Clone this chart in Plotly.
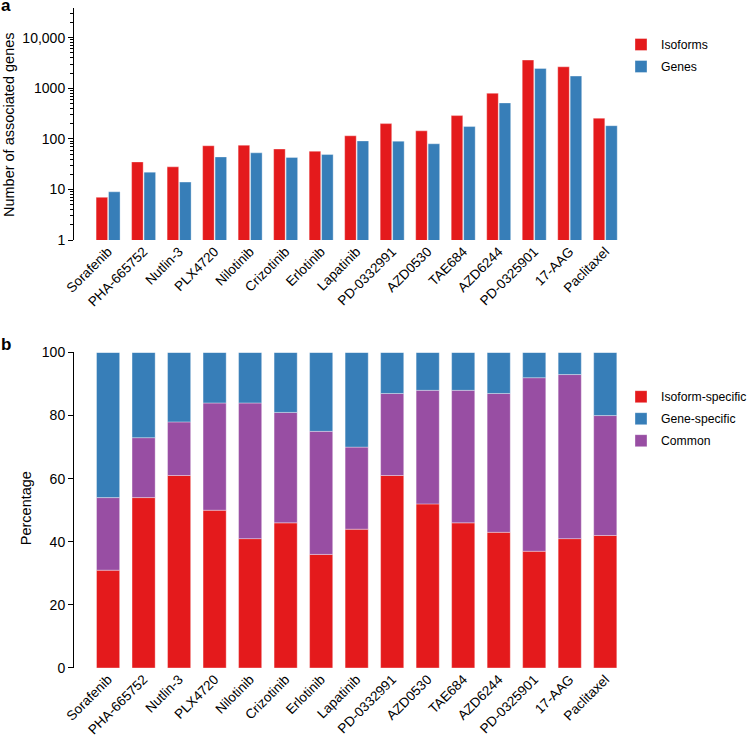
import plotly.graph_objects as go

drugs = ["Sorafenib", "PHA-665752", "Nutlin-3", "PLX4720", "Nilotinib", "Crizotinib",
         "Erlotinib", "Lapatinib", "PD-0332991", "AZD0530", "TAE684", "AZD6244",
         "PD-0325901", "17-AAG", "Paclitaxel"]

isoforms = [7, 35, 28, 73, 75, 63, 57, 115, 200, 144, 288, 795, 3600, 2650, 256]
genes = [9, 22, 14, 44, 53, 43, 49, 91, 90, 80, 175, 513, 2460, 1740, 182]

isoform_specific = [31, 54, 61, 50, 41, 46, 36, 44, 61, 52, 46, 43, 37, 41, 42]
common = [23, 19, 17, 34, 43, 35, 39, 26, 26, 36, 42, 44, 55, 52, 38]
gene_specific = [46, 27, 22, 16, 16, 19, 25, 30, 13, 12, 12, 13, 8, 7, 20]

log_ticks = [1, 10, 100, 1000, 10000]
log_ticktext = ["1", "10", "100", "1000", "10,000"]
pct_ticks = [0, 20, 40, 60, 80, 100]

RED = "#E41A1C"
BLUE = "#377EB8"
PURPLE = "#984EA3"
FONT = "Liberation Sans, Arial, sans-serif"

W, H = 748, 736
L, R, T, B = 74, 623, 8, 667.7   # plot area in pixels
PW, PH = R - L, B - T

def px(x):
    return (x - L) / PW
def py(y):
    return (B - y) / PH

minor_vals = [m * 10 ** k for k in range(0, 5) for m in range(2, 10)] + [20000, 30000]

fig = go.Figure()

edge = dict(color="rgba(255,255,255,0.35)", width=1)

fig.add_trace(go.Bar(x=drugs, y=isoforms, name="Isoforms", marker=dict(color=RED, line=edge),
                     xaxis="x", yaxis="y", legend="legend", legendgroup="a1"))
fig.add_trace(go.Bar(x=drugs, y=genes, name="Genes", marker=dict(color=BLUE, line=edge),
                     xaxis="x", yaxis="y", legend="legend", legendgroup="a2"))

base_common = isoform_specific
base_gene = [a + b for a, b in zip(isoform_specific, common)]

fig.add_trace(go.Bar(x=drugs, y=isoform_specific, name="Isoform-specific",
                     marker=dict(color=RED, line=edge), xaxis="x2", yaxis="y2",
                     legend="legend2", legendrank=1, legendgroup="b1",
                     offsetgroup="stack"))
fig.add_trace(go.Bar(x=drugs, y=common, base=base_common, name="Common",
                     marker=dict(color=PURPLE, line=edge), xaxis="x2", yaxis="y2",
                     legend="legend2", legendrank=3, legendgroup="b3",
                     offsetgroup="stack"))
fig.add_trace(go.Bar(x=drugs, y=gene_specific, base=base_gene, name="Gene-specific",
                     marker=dict(color=BLUE, line=edge), xaxis="x2", yaxis="y2",
                     legend="legend2", legendrank=2, legendgroup="b2",
                     offsetgroup="stack"))

xrange_ = [-0.96, 14.5]
TICK = 14
XTICK = 13.5
LEG = 12.2

fig.update_layout(
    width=W, height=H,
    margin=dict(l=L, r=W - R, t=T, b=H - B, autoexpand=False),
    paper_bgcolor="white", plot_bgcolor="white",
    font=dict(family=FONT, size=TICK, color="black"),
    barmode="group",
    bargap=0.30, bargroupgap=0.07,
    xaxis=dict(domain=[0, 1], anchor="y", range=xrange_, showline=False, ticks="",
               tickangle=-45, showgrid=False, zeroline=False,
               automargin=False, tickfont=dict(size=XTICK)),
    yaxis=dict(domain=[py(240), 1], anchor="x", type="log", range=[0, 4.585],
               tickmode="array", tickvals=log_ticks, ticktext=log_ticktext,
               ticks="outside", ticklen=5, tickcolor="black", showline=True,
               linecolor="black", linewidth=1, showgrid=False, zeroline=False,
               automargin=False, tickfont=dict(size=TICK),
               minor=dict(tickmode="array", tickvals=minor_vals, ticks="outside",
                          ticklen=3, tickcolor="black", showgrid=False)),
    xaxis2=dict(domain=[0, 1], anchor="y2", range=xrange_, showline=False, ticks="",
                tickangle=-45, showgrid=False, zeroline=False,
                automargin=False, tickfont=dict(size=XTICK)),
    yaxis2=dict(domain=[0, py(352.3)], anchor="x2", range=[0, 100],
                tickvals=pct_ticks, ticks="outside", ticklen=5, tickcolor="black",
                showline=True, linecolor="black", linewidth=1, showgrid=False,
                zeroline=False, automargin=False, tickfont=dict(size=TICK)),
    legend=dict(x=px(621), y=py(30), xanchor="left", yanchor="top",
                font=dict(size=LEG), bgcolor="rgba(0,0,0,0)", tracegroupgap=3,
                traceorder="grouped"),
    legend2=dict(x=px(621), y=py(382), xanchor="left", yanchor="top",
                 font=dict(size=LEG), bgcolor="rgba(0,0,0,0)", tracegroupgap=3,
                 traceorder="grouped"),
    showlegend=True,
)

fig.add_annotation(text="Number of associated genes", x=px(9), y=py(125), xref="paper",
                   yref="paper", textangle=-90, showarrow=False, font=dict(size=14.5),
                   xanchor="center", yanchor="middle")
fig.add_annotation(text="Percentage", x=px(26), y=py(508), xref="paper", yref="paper",
                   textangle=-90, showarrow=False, font=dict(size=14.5),
                   xanchor="center", yanchor="middle")
fig.add_annotation(text="<b>a</b>", x=px(-1), y=py(-6), xref="paper", yref="paper",
                   showarrow=False, xanchor="left", yanchor="top", font=dict(size=17))
fig.add_annotation(text="<b>b</b>", x=px(-1), y=py(333), xref="paper", yref="paper",
                   showarrow=False, xanchor="left", yanchor="top", font=dict(size=17))

fig.write_html("out.html", config={"displayModeBar": False},
               post_script="document.body.style.margin='0';document.body.style.overflow='hidden';")
